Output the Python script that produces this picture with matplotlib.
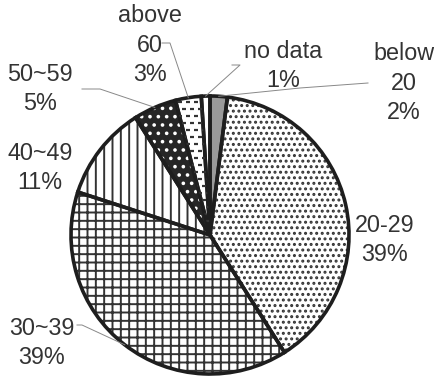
import numpy as np
import matplotlib
matplotlib.use("Agg")
import matplotlib.pyplot as plt
from matplotlib.collections import LineCollection

plt.rcParams['font.family'] = ['Liberation Sans', 'DejaVu Sans']
plt.rcParams['hatch.linewidth'] = 1.4

# age groups, clockwise from 12 o'clock
groups = ["below\n20", "20-29", "30~39", "40~49", "50~59", "above\n60", "no data"]
shares = [2, 39, 39, 11, 5, 3, 1]

W, H = 435, 380
fig = plt.figure(figsize=(W / 100, H / 100), dpi=100)
ax = fig.add_axes([0, 0, 1, 1])

cx, cy, r = 210, H - 235, 139

faces = ["#9a9a9a", "white", "white", "white", "#262626", "white", "white"]
hatch_col = ["#9a9a9a", "#333333", "#333333", "#333333", "white", "#333333", "white"]
hatches = [None, "...", "++", "||", "..", None, None]

wedges, _ = ax.pie(shares, startangle=90, counterclock=False,
                   center=(cx, cy), radius=r, frame=True)
for w, fc, hc, h in zip(wedges, faces, hatch_col, hatches):
    w.set_facecolor(fc)
    w.set_edgecolor(hc)
    w.set_linewidth(0)
    if h:
        w.set_hatch(h)

# short horizontal dashes for the "above 60" slice
segs = []
for i, y in enumerate(np.arange(cy, cy + r, 7.0)):
    off = 0 if i % 2 == 0 else 4
    for x0 in np.arange(cx - 60 + off, cx + 10, 8.0):
        segs.append([(x0, y), (x0 + 4.5, y)])
lc = LineCollection(segs, colors="#333333", linewidths=1.6)
ax.add_collection(lc)
lc.set_clip_path(wedges[5])

# outlines on top
ax.pie(shares, startangle=90, counterclock=False,
       center=(cx, cy), radius=r, frame=True,
       wedgeprops=dict(fill=False, edgecolor="#1e1e1e", linewidth=2.6))
ax.set_xlim(0, W)
ax.set_ylim(0, H)
ax.set_aspect("equal")
ax.axis("off")

txt = dict(fontsize=16.8, color="#333333", ha="center", va="center", linespacing=1.38)

# label positions (pixel layout, y from top)
label_xy = [(404, 83), (385, 240), (42, 343), (40, 168), (40, 89), (150, 45), (283, 66)]
# leader lines: elbow segment before running to the slice
leaders = {0: [(368, 83), (300, 88)], 6: [(232, 65), (240, 65)],
           5: [(162, 43), (170, 43)], 4: [(82, 89), (100, 89)],
           2: [(77, 325), (82, 325)]}

cum = np.cumsum([0] + shares[:-1])
for i, (g, s) in enumerate(zip(groups, shares)):
    x, y = label_xy[i]
    ax.text(x, H - y, f"{g}\n{s}%", **txt)
    if i in leaders:
        mid = np.deg2rad(90 - (cum[i] + s / 2) * 3.6)
        px, py = cx + r * np.cos(mid), cy + r * np.sin(mid)
        (x1, y1), (x2, y2) = leaders[i]
        ax.plot([x1, x2, px], [H - y1, H - y2, py], color="#888888", lw=0.7)

fig.savefig("out.png", dpi=100, facecolor="white")
